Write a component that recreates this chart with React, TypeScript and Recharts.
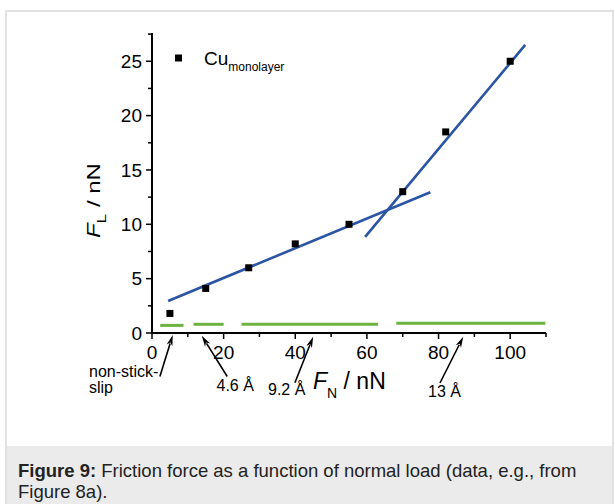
import React from 'react';
import { ComposedChart, Line, ReferenceLine, Scatter, XAxis, YAxis } from 'recharts';

// measured friction force vs normal load (Cu monolayer)
const loadNN = [5, 15, 27, 40, 55, 70, 82, 100];
const frictionNN = [1.8, 4.1, 6.0, 8.2, 10.0, 13.0, 18.5, 25.0];

// two linear fits
const lowFitX = [4.5, 77.7];
const lowFitY = [2.95, 12.95];
const highFitX = [59.5, 104.2];
const highFitY = [8.85, 26.5];

// green bands (stick-slip regimes)
const bandFrom = [2.3, 11.6, 25, 68.2];
const bandTo = [8.8, 20, 63.1, 109.8];
const bandLevel = [0.7, 0.8, 0.8, 0.9];

// arrows from the regime labels to the axis
const arrowTailX = [2.2, 21.0, 39.9, 80.4];
const arrowTailY = [-4.0, -4.0, -4.57, -4.6];
const arrowTipX = [5.8, 13.9, 45.0, 86.9];
const arrowTipY = [-0.18, -0.25, -0.34, -0.34];

const xTicks = [0, 10, 20, 30, 40, 50, 60, 70, 80, 90, 100, 110];
const yTicks = [0, 2.5, 5, 7.5, 10, 12.5, 15, 17.5, 20, 22.5, 25, 27.5];

const points = loadNN.map((x, i) => ({ x, y: frictionNN[i] }));
const lowFit = lowFitX.map((x, i) => ({ x, y: lowFitY[i] }));
const highFit = highFitX.map((x, i) => ({ x, y: highFitY[i] }));
const bands = bandFrom.map((from, i) => [
  { x: from, y: bandLevel[i] },
  { x: bandTo[i], y: bandLevel[i] },
]);

const FONT = '"Liberation Sans", Arial, sans-serif';
const BLUE = '#2b55a4';
const GREEN = '#6cb33f';

const YTick = (props: any) => {
  const { x, y, payload } = props;
  const major = payload.value % 5 === 0;
  return (
    <g>
      <line x1={x} x2={x - (major ? 6 : 4)} y1={y} y2={y} stroke="#000" strokeWidth={1.5} />
      {major && (
        <text x={x - 10} y={y} dy="0.36em" textAnchor="end" fontSize={19} fill="#000" fontFamily={FONT}>
          {payload.value}
        </text>
      )}
    </g>
  );
};

const XTick = (props: any) => {
  const { x, y, payload } = props;
  const major = payload.value % 20 === 0;
  return (
    <g>
      <line x1={x} x2={x} y1={y} y2={y + (major ? 6 : 4)} stroke="#000" strokeWidth={1.5} />
      {major && (
        <text x={x} y={y + 25.5} textAnchor="middle" fontSize={19} fill="#000" fontFamily={FONT}>
          {payload.value}
        </text>
      )}
    </g>
  );
};

const Square = (props: any) => (
  <rect x={props.cx - 3.5} y={props.cy - 3.5} width={7} height={7} fill="#000" />
);

const Arrow = (props: any) => {
  const { x1, y1, x2, y2 } = props;
  const dx = x2 - x1;
  const dy = y2 - y1;
  const len = Math.sqrt(dx * dx + dy * dy);
  const ux = dx / len;
  const uy = dy / len;
  const headLen = 11;
  const headW = 3;
  const bx = x2 - ux * headLen;
  const by = y2 - uy * headLen;
  return (
    <g>
      <line x1={x1} y1={y1} x2={bx + ux * 2} y2={by + uy * 2} stroke="#000" strokeWidth={1.6} />
      <polygon
        points={`${x2},${y2} ${bx - uy * headW},${by + ux * headW} ${bx + ux * 3},${by + uy * 3} ${bx + uy * headW},${by - ux * headW}`}
        fill="#000"
      />
    </g>
  );
};

export default function App() {
  return (
    <div style={{ position: 'absolute', left: 0, top: 0, width: 615, height: 504, overflow: 'hidden', background: '#fff' }}>
      <div
        style={{
          position: 'absolute',
          left: 5,
          top: 10,
          width: 609,
          height: 520,
          border: '2px solid #e2e2e2',
          boxSizing: 'border-box',
        }}
      />
      <div style={{ position: 'absolute', left: 0, top: 0 }}>
        <ComposedChart
          width={615}
          height={446}
          margin={{ top: 33, right: 69, left: 0, bottom: 0 }}
          style={{ fontFamily: FONT }}
        >
          <XAxis
            type="number"
            dataKey="x"
            domain={[0, 110]}
            ticks={xTicks}
            interval={0}
            height={113}
            tickSize={0}
            tickMargin={0}
            tickLine={false}
            tick={<XTick />}
            axisLine={{ stroke: '#000', strokeWidth: 2 }}
          />
          <YAxis
            type="number"
            dataKey="y"
            domain={[0, 27.6]}
            ticks={yTicks}
            interval={0}
            width={152}
            tickSize={0}
            tickMargin={0}
            tickLine={false}
            tick={<YTick />}
            axisLine={{ stroke: '#000', strokeWidth: 2 }}
          />
          {bands.map((b, i) => (
            <Line
              key={'band' + i}
              data={b}
              dataKey="y"
              type="linear"
              stroke={GREEN}
              strokeWidth={3}
              dot={false}
              isAnimationActive={false}
            />
          ))}
          <Line data={lowFit} dataKey="y" type="linear" stroke={BLUE} strokeWidth={2.6} dot={false} isAnimationActive={false} />
          <Line data={highFit} dataKey="y" type="linear" stroke={BLUE} strokeWidth={2.6} dot={false} isAnimationActive={false} />
          <Scatter data={points} dataKey="y" shape={<Square />} isAnimationActive={false} />
          {arrowTailX.map((tx, i) => (
            <ReferenceLine
              key={'arr' + i}
              segment={[
                { x: tx, y: arrowTailY[i] },
                { x: arrowTipX[i], y: arrowTipY[i] },
              ]}
              ifOverflow="visible"
              shape={<Arrow />}
            />
          ))}
        </ComposedChart>
      </div>
      <svg
        width={615}
        height={446}
        style={{ position: 'absolute', left: 0, top: 0, pointerEvents: 'none', fontFamily: FONT }}
      >
        <rect x={175} y={54.5} width={7} height={7} fill="#000" />
        <text x={204} y={65} fontSize={19} fill="#000">
          Cu<tspan fontSize={12} dy={5.5}>monolayer</tspan>
        </text>
        <text transform="translate(100,238) rotate(-90) scale(1.33,1)" fontSize={18} fill="#000">
          <tspan fontStyle="italic">F</tspan>
          <tspan fontSize={13} dy={6}>L</tspan>
          <tspan dy={-6}> / nN</tspan>
        </text>
        <text x={313} y={389} fontSize={23} fill="#000">
          <tspan fontStyle="italic">F</tspan>
          <tspan fontSize={14} dy={9}>N</tspan>
          <tspan dy={-9}> / nN</tspan>
        </text>
        <text fontSize={16} fill="#000">
          <tspan x={89} y={376.5}>non-stick-</tspan>
          <tspan x={89} y={393}>slip</tspan>
        </text>
        <text x={216.5} y={390.5} fontSize={16} fill="#000">4.6 Å</text>
        <text x={268} y={395} fontSize={16} fill="#000">9.2 Å</text>
        <text x={428} y={396.5} fontSize={16} fill="#000">13 Å</text>
      </svg>
      <div
        style={{
          position: 'absolute',
          left: 7,
          top: 446,
          width: 605,
          height: 60,
          background: '#ebebeb',
          boxSizing: 'border-box',
          padding: '13.5px 0 0 11px',
          fontFamily: FONT,
          fontSize: 18.5,
          lineHeight: '21.5px',
          color: '#222',
          whiteSpace: 'nowrap',
        }}
      >
        <b>Figure 9:</b> Friction force as a function of normal load (data, e.g., from
        <br />
        Figure 8a).
      </div>
    </div>
  );
}
